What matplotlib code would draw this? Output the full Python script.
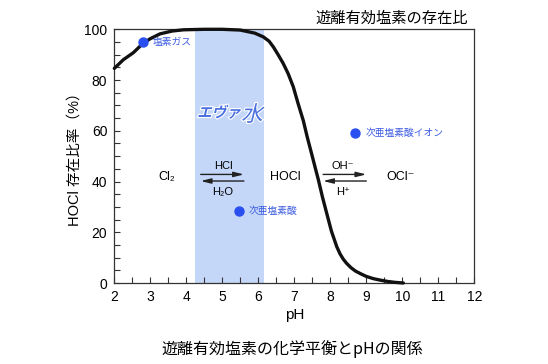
import matplotlib
matplotlib.use("Agg")
import matplotlib.pyplot as plt
import matplotlib.patheffects as pe
from matplotlib.ticker import MultipleLocator
from matplotlib.textpath import TextPath
from matplotlib.patches import PathPatch
from matplotlib.font_manager import FontProperties
from matplotlib.transforms import Affine2D

plt.rcParams['font.family'] = ['Liberation Sans', 'Noto Sans CJK JP', 'DejaVu Sans']

# HOCl existence ratio curve (pH, %)
ph = [2.0, 2.25, 2.53, 2.8, 3.0, 3.27, 3.6, 3.92, 4.5, 5.0, 5.5, 5.9, 6.14, 6.3,
      6.42, 6.55, 6.69, 6.83, 6.97, 7.1, 7.25, 7.36, 7.48, 7.58, 7.67, 7.78, 7.9,
      8.03, 8.18, 8.27, 8.36, 8.45, 8.57, 8.7, 8.85, 9.0, 9.2, 9.4, 9.6, 9.8, 10.03]
ratio = [84.6, 88.0, 90.8, 94.5, 96.3, 98.2, 99.3, 99.8, 100.0, 100.0, 99.7, 98.5,
         97.0, 95.3, 93.0, 90.0, 86.6, 82.5, 77.4, 71.0, 64.0, 57.5, 51.0, 45.5,
         40.6, 34.0, 27.5, 20.5, 14.3, 11.5, 9.4, 7.8, 6.1, 4.7, 3.6, 2.6, 1.7, 1.1,
         0.6, 0.25, 0.0]

band = (4.25, 6.15)

dot_labels = ['塩素ガス', '次亜塩素酸', '次亜塩素酸イオン']
dot_x = [2.79, 5.46, 8.69]
dot_y = [95.0, 28.5, 59.2]

xticks = list(range(2, 13))
yticks = [0, 20, 40, 60, 80, 100]

fig = plt.figure(figsize=(5.48, 3.64), dpi=100)
ax = fig.add_axes([0.2086, 0.2225, 0.6569, 0.697])
ax.set_xlim(2, 12)
ax.set_ylim(0, 100)

ax.axvspan(band[0], band[1], color='#c4d7f8', lw=0, zorder=0)
ax.plot(ph, ratio, color='#111111', lw=2.4, solid_capstyle='round',
        solid_joinstyle='round', zorder=3, clip_on=False)

ax.scatter(dot_x, dot_y, s=42, color='#2a4ff0', zorder=4, clip_on=False)
for x, y, t in zip(dot_x, dot_y, dot_labels):
    ax.text(x + 0.28, y, t, color='#3a5ae0', fontsize=7, va='center', ha='left',
            family=['Noto Sans CJK JP'], zorder=5)

ax.set_xticks(xticks)
ax.set_yticks(yticks)
ax.xaxis.set_minor_locator(MultipleLocator(0.5))
ax.yaxis.set_minor_locator(MultipleLocator(5))
ax.tick_params(which='both', direction='in', length=4, width=0.8, color='#333333',
               top=False, right=False, labelsize=10, pad=5)
for s in ax.spines.values():
    s.set_color('#333333')
    s.set_linewidth(0.9)

ax.set_xlabel('pH', fontsize=11, labelpad=3)
ax.set_ylabel('HOCl 存在比率（%）', fontsize=10.5, labelpad=2)

# chemistry annotations
ax.text(3.45, 41.7, 'Cl₂', fontsize=9, ha='center', va='center')
ax.text(6.75, 41.7, 'HOCl', fontsize=9, ha='center', va='center')
ax.text(9.95, 41.7, 'OCl⁻', fontsize=9, ha='center', va='center')
ax.text(5.02, 46.3, 'HCl', fontsize=8, ha='center', va='center')
ax.text(5.02, 36.0, 'H₂O', fontsize=8, ha='center', va='center')
ax.text(8.35, 46.3, 'OH⁻', fontsize=8, ha='center', va='center')
ax.text(8.35, 36.0, 'H⁺', fontsize=8, ha='center', va='center')
arr = dict(arrowstyle='-|>,head_length=0.6,head_width=0.15', color='#222222', lw=1.0,
           shrinkA=0, shrinkB=0)
ax.annotate('', xy=(5.6, 42.8), xytext=(4.4, 42.8), arrowprops=arr)
ax.annotate('', xy=(4.4, 40.2), xytext=(5.6, 40.2), arrowprops=arr)
ax.annotate('', xy=(7.8 + 1.2, 42.8), xytext=(7.8, 42.8), arrowprops=arr)
ax.annotate('', xy=(7.8, 40.2), xytext=(7.8 + 1.2, 40.2), arrowprops=arr)

# エヴァ水 (slanted outline text)
fp_b = FontProperties(family='Noto Sans CJK JP', weight='bold')
fp_n = FontProperties(family='Noto Sans CJK JP')
scale = fig.dpi / 72.0
peff = [pe.withStroke(linewidth=1.6, foreground='white')]


def slanted(text, x, y, size, fp):
    tp = TextPath((0, 0), text, size=size, prop=fp)
    px, py = ax.transData.transform((x, y))
    tr = Affine2D().skew_deg(14, 0).scale(scale).translate(px, py)
    patch = PathPatch(tp, transform=tr, facecolor='#4a6fe0', edgecolor='none',
                      path_effects=peff, zorder=5)
    fig.add_artist(patch)


slanted('エヴァ', 4.3, 65.3, 10.5, fp_b)
slanted('水', 5.52, 63.8, 15.5, fp_n)

fig.text(0.715, 0.95, '遊離有効塩素の存在比', fontsize=11, ha='center', va='center',
         family=['Noto Sans CJK JP'])
fig.text(0.534, 0.04, '遊離有効塩素の化学平衡とpHの関係', fontsize=11.5, ha='center',
         va='center', family=['Noto Sans CJK JP', 'DejaVu Sans'])

fig.savefig('out.png', dpi=100)
